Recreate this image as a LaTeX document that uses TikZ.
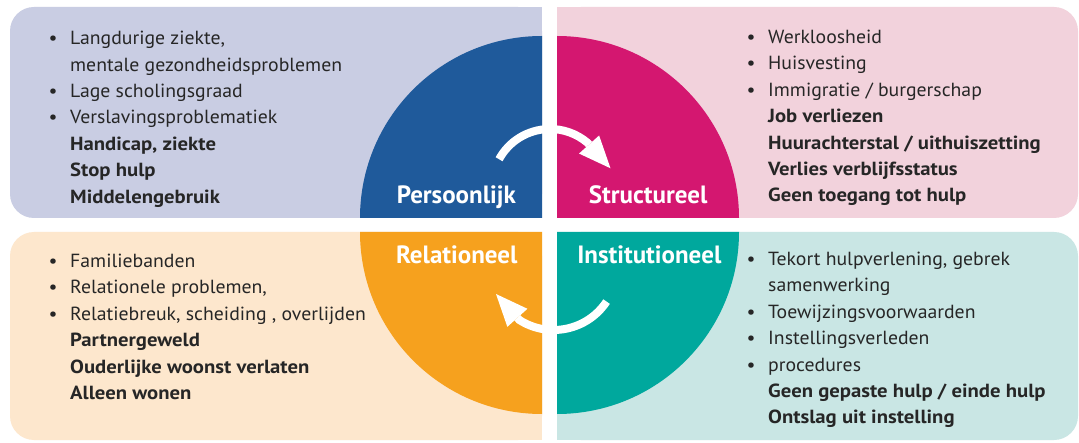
\documentclass[tikz,border=0pt]{standalone}
\usepackage{fontspec}
\setmainfont{PT Sans}
\newfontfamily\bodyreg{PT Sans}[FakeStretch=1.04]
\newfontfamily\bodybf{PT Sans}[FakeStretch=1.09]
\usetikzlibrary{arrows.meta}
\definecolor{lav}{RGB}{201,205,227}
\definecolor{pinkbg}{RGB}{242,210,220}
\definecolor{peach}{RGB}{253,231,205}
\definecolor{mint}{RGB}{201,230,228}
\definecolor{qblue}{RGB}{31,90,155}
\definecolor{qmag}{RGB}{212,23,112}
\definecolor{qorange}{RGB}{246,161,30}
\definecolor{qteal}{RGB}{0,168,157}
\definecolor{txt}{RGB}{38,38,38}
\newcommand\mybul{\hspace*{-17pt}\makebox[0pt]{\textbullet}\hspace*{17pt}}
\newcommand\bb[1]{{\bodybf\bfseries #1}}
\begin{document}
\begin{tikzpicture}[x=1pt,y=1pt,
  lab/.style={font=\bfseries\fontsize{25}{30}\selectfont, text=white, inner sep=0pt, anchor=base},
  body/.style={inner sep=0pt, anchor=base west, text=txt, font=\bodyreg\fontsize{19}{26.4}\selectfont},
  cyclearrow/.style={draw=white, line width=8pt, -{Triangle[length=32pt,width=27pt,line width=0pt]}}]
\useasboundingbox (0,0) rectangle (1079,442);
\fill[white] (0,0) rectangle (1079,442);
% background boxes
\fill[lav, rounded corners=24pt] (10,224) rectangle (542,435);
\fill[lav] (300,224) rectangle (542,435);
\fill[pinkbg, rounded corners=24pt] (557,224) rectangle (1078,435);
\fill[pinkbg] (557,224) rectangle (800,435);
\fill[peach, rounded corners=24pt] (10,2) rectangle (542,210);
\fill[peach] (300,2) rectangle (542,210);
\fill[mint, rounded corners=24pt] (557,2) rectangle (1078,210);
\fill[mint] (557,2) rectangle (800,210);
% quarter discs
\fill[qblue] (542,224) -- (360,224) arc[start angle=180,end angle=90,radius=182] -- cycle;
\fill[qmag] (557,224) -- (739,224) arc[start angle=0,end angle=90,radius=182] -- cycle;
\fill[qorange] (542,210) -- (360,210) arc[start angle=180,end angle=270,radius=182] -- cycle;
\fill[qteal] (557,210) -- (739,210) arc[start angle=0,end angle=-90,radius=182] -- cycle;
% cycle arrows
\coordinate (topc) at (550,255);
\coordinate (toptip) at (610.5,273.7);
\coordinate (botc) at (553.6,175.6);
\coordinate (bottip) at (496,148);
\path[cyclearrow] (topc) ++(151.4:58) arc[start angle=151.4,end angle=49.8,radius=58] -- (toptip);
\path[cyclearrow] (botc) ++(-33.6:63.6) arc[start angle=-33.6,end angle=-122.6,radius=63.6] -- (bottip);
% labels
\node[lab] (pers) at (456.3,238) {Persoonlijk};
\node[lab] (struc) at (648.2,238) {Structureel};
\node[lab] (rel) at (456.8,178.7) {Relationeel};
\node[lab] (inst) at (649.3,178.7) {Institutioneel};
% texts
\node[body] (tl) at (70,397.3) {\begin{tabular}[t]{@{}l@{}}
\mybul Langdurige ziekte,\\
mentale gezondheidsproblemen\\
\mybul Lage scholingsgraad\\
\mybul Verslavingsproblematiek\\
\bb{Handicap, ziekte}\\
\bb{Stop hulp}\\
\bb{Middelengebruik}
\end{tabular}};
\node[body] (tr) at (768,398.5) {\begin{tabular}[t]{@{}l@{}}
\mybul Werkloosheid\\
\mybul Huisvesting\\
\mybul Immigratie / burgerschap\\
\bb{Job verliezen}\\
\bb{Huurachterstal / uithuiszetting}\\
\bb{Verlies verblijfsstatus}\\
\bb{Geen toegang tot hulp}
\end{tabular}};
\node[body] (bl) at (70,174.5) {\begin{tabular}[t]{@{}l@{}}
\mybul Familiebanden\\
\mybul Relationele problemen,\\
\mybul Relatiebreuk, scheiding , overlijden\\
\bb{Partnergeweld}\\
\bb{Ouderlijke woonst verlaten}\\
\bb{Alleen wonen}
\end{tabular}};
\node[body] (br) at (768,176.5) {\begin{tabular}[t]{@{}l@{}}
\mybul Tekort hulpverlening, gebrek\\
samenwerking\\
\mybul Toewijzingsvoorwaarden\\
\mybul Instellingsverleden\\
\mybul procedures\\
\bb{Geen gepaste hulp / einde hulp}\\
\bb{Ontslag uit instelling}
\end{tabular}};
\end{tikzpicture}
\end{document}
